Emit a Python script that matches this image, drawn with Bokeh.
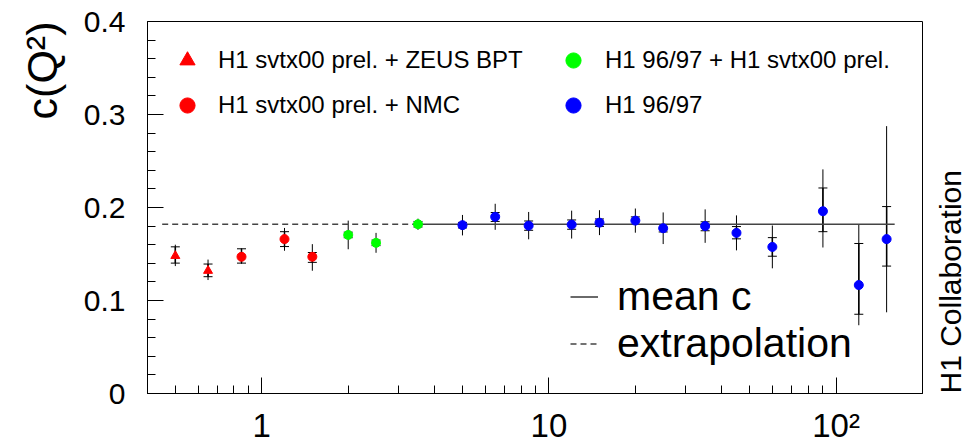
from bokeh.plotting import figure
from bokeh.layouts import row
from bokeh.models import (ColumnDataSource, Whisker, TeeHead, FixedTicker, Legend,
                          LegendItem, Title, Range1d)
from bokeh.embed import file_html
from bokeh.resources import INLINE

# ---------------- data ----------------
# H1 svtx00 prel. + ZEUS BPT (red triangles)
q2_zeus = [0.5, 0.65]
c_zeus = [0.148, 0.132]
tot_up_zeus = [0.012, 0.012]
tot_dn_zeus = [0.011, 0.010]
stat_up_zeus = [0.0097, 0.0072]
stat_dn_zeus = [0.0078, 0.0064]

# H1 svtx00 prel. + NMC (red circles)
q2_nmc = [0.85, 1.2, 1.5]
c_nmc = [0.147, 0.166, 0.147]
tot_up_nmc = [0.009, 0.012, 0.0136]
tot_dn_nmc = [0.0075, 0.0125, 0.015]
stat_up_nmc = [0.0086, 0.008, 0.0046]
stat_dn_nmc = [0.0068, 0.008, 0.006]

# H1 96/97 + H1 svtx00 prel. (green circles)
q2_comb = [2.0, 2.5, 3.5]
c_comb = [0.1705, 0.162, 0.182]
tot_up_comb = [0.0154, 0.0107, 0.006]
tot_dn_comb = [0.0154, 0.0107, 0.006]
stat_up_comb = [0.003, 0.003, 0.003]
stat_dn_comb = [0.003, 0.003, 0.003]

# H1 96/97 (blue circles)
q2_h1 = [5, 6.5, 8.5, 12, 15, 20, 25, 35, 45, 60, 90, 120, 150]
c_h1 = [0.181, 0.190, 0.1805, 0.1816, 0.1837, 0.1859, 0.1777, 0.180, 0.1727,
        0.1576, 0.196, 0.1166, 0.166]
tot_up_h1 = [0.011, 0.014, 0.0147, 0.015, 0.0134, 0.013, 0.017, 0.018, 0.0188,
             0.023, 0.045, 0.0647, 0.1215]
tot_dn_h1 = [0.011, 0.014, 0.0147, 0.015, 0.0134, 0.013, 0.017, 0.018, 0.0188,
             0.023, 0.039, 0.0432, 0.0787]
stat_up_h1 = [0.003, 0.0046, 0.005, 0.005, 0.004, 0.004, 0.004, 0.0046, 0.0068,
              0.010, 0.025, 0.0447, 0.035]
stat_dn_h1 = [0.003, 0.005, 0.005, 0.005, 0.004, 0.004, 0.004, 0.005, 0.0064,
              0.010, 0.022, 0.0314, 0.029]

mean_c = 0.182
mean_q2_range = [3.5, 160]
extrap_q2_range = [0.45, 3.5]

x_major_ticks = [1, 10, 100]
x_tick_labels = ["1", "10", "10\u00b2"]
x_minor_ticks = [0.4, 0.5, 0.6, 0.7, 0.8, 0.9, 2, 3, 4, 5, 6, 7, 8, 9,
                 20, 30, 40, 50, 60, 70, 80, 90, 200]
y_major_ticks = [0, 0.1, 0.2, 0.3, 0.4]
y_tick_labels = ["0", "0.1", "0.2", "0.3", "0.4"]
y_minor_ticks = [0.02, 0.04, 0.06, 0.08, 0.12, 0.14, 0.16, 0.18, 0.22, 0.24,
                 0.26, 0.28, 0.32, 0.34, 0.36, 0.38]

FONT = "Liberation Sans"

# ---------------- figure ----------------
p = figure(width=933, height=446, x_axis_type="log",
           x_range=Range1d(0.4, 200), y_range=Range1d(0, 0.4),
           output_backend="svg", toolbar_location=None,
           min_border_left=147, min_border_right=11,
           min_border_top=21, min_border_bottom=53)
p.xgrid.visible = False
p.ygrid.visible = False
p.outline_line_color = "black"
p.outline_line_alpha = 1
p.outline_line_width = 1
p.background_fill_color = "white"
p.border_fill_color = "white"

xa = p.xaxis[0]
ya = p.yaxis[0]
xa.ticker = FixedTicker(ticks=x_major_ticks, minor_ticks=x_minor_ticks)
ya.ticker = FixedTicker(ticks=y_major_ticks, minor_ticks=y_minor_ticks)
xa.major_label_overrides = dict(zip(x_major_ticks, x_tick_labels))
ya.major_label_overrides = dict(zip(y_major_ticks, y_tick_labels))
for ax in (xa, ya):
    ax.major_tick_in = 16
    ax.major_tick_out = 0
    ax.minor_tick_in = 8
    ax.minor_tick_out = 0
    ax.axis_line_color = "black"
    ax.major_tick_line_color = "black"
    ax.minor_tick_line_color = "black"
    ax.major_label_text_font = FONT
    ax.major_label_text_color = "black"
xa.major_label_text_font_size = "33px"
ya.major_label_text_font_size = "30px"
xa.major_label_standoff = 13
ya.major_label_standoff = 22


def add_errors(q2, c, tup, tdn, sup, sdn):
    tot = ColumnDataSource(dict(base=q2,
                                upper=[v + e for v, e in zip(c, tup)],
                                lower=[v - e for v, e in zip(c, tdn)]))
    sta = ColumnDataSource(dict(base=q2,
                                upper=[v + e for v, e in zip(c, sup)],
                                lower=[v - e for v, e in zip(c, sdn)]))
    w1 = Whisker(source=tot, base="base", upper="upper", lower="lower",
                 dimension="height", line_color="black", line_width=1,
                 upper_head=None, lower_head=None, level="underlay")
    w2 = Whisker(source=sta, base="base", upper="upper", lower="lower",
                 dimension="height", line_color="black", line_width=1.5,
                 upper_head=TeeHead(size=9, line_color="black", line_width=1),
                 lower_head=TeeHead(size=9, line_color="black", line_width=1),
                 level="underlay")
    p.add_layout(w1)
    p.add_layout(w2)


add_errors(q2_zeus, c_zeus, tot_up_zeus, tot_dn_zeus, stat_up_zeus, stat_dn_zeus)
add_errors(q2_nmc, c_nmc, tot_up_nmc, tot_dn_nmc, stat_up_nmc, stat_dn_nmc)
add_errors(q2_comb, c_comb, tot_up_comb, tot_dn_comb, stat_up_comb, stat_dn_comb)
add_errors(q2_h1, c_h1, tot_up_h1, tot_dn_h1, stat_up_h1, stat_dn_h1)

r_mean = p.line(mean_q2_range, [mean_c, mean_c], line_color="#444444", line_width=1.6)
r_extra = p.line(extrap_q2_range, [mean_c, mean_c], line_color="#444444",
                 line_width=1.3, line_dash="6 4")

r_zeus = p.scatter(q2_zeus, c_zeus, marker="triangle", size=9, color="#ff0000")
r_nmc = p.scatter(q2_nmc, c_nmc, marker="circle", size=9, color="#ff0000")
r_comb = p.scatter(q2_comb, c_comb, marker="circle", size=9, color="#00ff00")
r_h1 = p.scatter(q2_h1, c_h1, marker="circle", size=9, color="#0000ff")


def make_legend(items, loc, gw, gh, spacing, standoff, fsize):
    leg = Legend(items=items, location=loc, glyph_width=gw, glyph_height=gh,
                 label_height=gh, spacing=spacing, label_standoff=standoff,
                 padding=0, margin=0, background_fill_alpha=0,
                 border_line_alpha=0, label_text_font=FONT,
                 label_text_font_size=fsize, label_text_color="black")
    p.add_layout(leg, "center")


make_legend([LegendItem(label="H1 svtx00 prel. + ZEUS BPT", renderers=[r_zeus]),
             LegendItem(label="H1 svtx00 prel. + NMC", renderers=[r_nmc])],
            (21, 269), 38, 38, 7, 12, "24px")
make_legend([LegendItem(label="H1 96/97 + H1 svtx00 prel.", renderers=[r_comb]),
             LegendItem(label="H1 96/97", renderers=[r_h1])],
            (407, 269), 38, 38, 7, 13, "24px")
make_legend([LegendItem(label="mean c", renderers=[r_mean]),
             LegendItem(label="extrapolation", renderers=[r_extra])],
            (423, 26), 28, 45, 0, 19, "41px")

# y-axis title, placed at the top end of the axis
p.add_layout(Title(text="c(Q\u00b2)", align="right", standoff=30,
                   text_font=FONT, text_font_size="43px",
                   text_font_style="normal", text_color="black"), "left")

# narrow side panel carrying the vertical "H1 Collaboration" caption
p2 = figure(width=33, height=446, output_backend="svg", toolbar_location=None,
            x_axis_location=None, y_axis_location=None,
            min_border_left=0, min_border_right=0,
            min_border_top=21, min_border_bottom=53)
p2.grid.visible = False
p2.outline_line_color = None
p2.background_fill_color = "white"
p2.border_fill_color = "white"
p2.add_layout(Title(text="H1 Collaboration", align="left", standoff=0,
                    text_font=FONT, text_font_size="30px",
                    text_font_style="normal", text_color="black"), "left")

layout = row(p, p2, spacing=0)
open("out.html", "w").write(file_html(layout, INLINE))
